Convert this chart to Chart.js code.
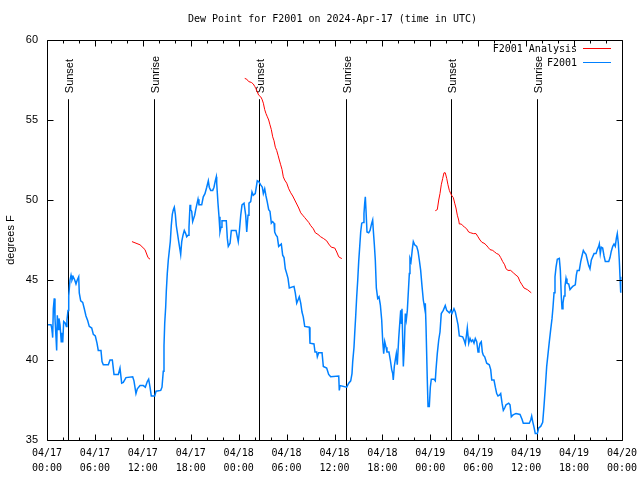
<!DOCTYPE html>
<html>
<head>
<meta charset="utf-8">
<script src="https://cdn.jsdelivr.net/npm/chart.js@4"></script>
<style>html,body{margin:0;background:#fff}</style>
</head>
<body>
<canvas id="chart" width="640" height="480"></canvas>
<script>
// hours since 04/17 00:00 UTC
const chartTitle = 'Dew Point for F2001 on 2024-Apr-17 (time in UTC)';
const dayLabels = ['04/17', '04/18', '04/19', '04/20'];
const yTicks = [35, 40, 45, 50, 55, 60];
const sunEvents = [[2.63, 'Sunset'], [13.44, 'Sunrise'], [26.58, 'Sunset'], [37.5, 'Sunrise'], [50.59, 'Sunset'], [61.4, 'Sunrise']];
const sunLineTop = 56.3;

const obsReadings = [
  [0.13,42.2],[0.50,42.2],[0.59,42.0],[0.66,41.7],[0.71,41.4],[0.79,43.2],[0.91,43.85],[1.00,42.6],[1.13,41.4],[1.21,40.6],
  [1.29,42.8],[1.41,41.9],[1.50,42.6],[1.63,42.2],[1.79,41.1],[1.88,41.7],[1.97,41.1],[2.09,42.4],[2.29,42.3],[2.42,42.1],
  [2.50,42.5],[2.63,43.1],[2.72,44.0],[2.88,45.0],[3.01,45.3],[3.13,45.0],[3.29,45.2],[3.47,45.0],[3.63,44.75],[3.79,45.0],
  [3.97,45.2],[4.04,44.2],[4.22,43.7],[4.47,43.6],[4.67,43.2],[4.88,42.75],[5.10,42.45],[5.29,42.1],[5.60,42.0],[5.80,41.6],
  [6.05,41.5],[6.26,41.05],[6.42,40.6],[6.76,40.6],[6.89,39.9],[7.05,39.7],[7.68,39.7],[7.89,40.0],[8.18,40.0],[8.39,39.1],
  [8.93,39.1],[9.14,39.5],[9.35,38.55],[9.55,38.6],[9.89,38.9],[10.73,38.95],[10.89,38.7],[11.14,37.9],[11.31,38.2],[11.65,38.4],
  [12.06,38.4],[12.31,38.3],[12.56,38.65],[12.73,38.8],[12.90,38.3],[13.06,37.75],[13.49,37.75],[13.65,38.05],[14.24,38.1],[14.40,38.3],
  [14.56,39.3],[14.65,40.9],[14.74,42.3],[14.86,43.3],[14.94,44.3],[15.06,45.4],[15.19,46.25],[15.31,46.8],[15.44,47.4],[15.56,48.4],
  [15.69,49.1],[15.82,49.4],[15.94,49.55],[16.07,49.1],[16.19,48.4],[16.37,47.8],[16.49,47.4],[16.65,46.9],[16.74,46.6],[16.87,47.4],
  [17.03,47.8],[17.19,48.1],[17.37,47.9],[17.49,47.7],[17.66,47.8],[17.78,48.3],[17.91,49.7],[17.99,49.4],[18.12,49.3],[18.24,48.65],
  [18.37,48.85],[18.49,49.05],[18.62,49.4],[18.75,49.7],[18.91,50.05],[19.03,49.7],[19.37,49.7],[19.57,50.2],[19.78,50.4],[20.00,50.8],
  [20.20,51.2],[20.32,50.8],[20.50,50.6],[20.75,50.6],[20.91,50.8],[21.07,51.2],[21.20,51.45],[21.25,51.05],[21.41,49.8],[21.54,48.95],
  [21.66,48.0],[21.79,48.3],[21.91,48.7],[22.45,48.7],[22.58,47.6],[22.70,47.1],[22.92,47.3],[23.08,48.1],[23.67,48.1],[23.83,47.7],
  [23.95,47.4],[24.08,48.0],[24.26,49.05],[24.42,49.7],[24.67,49.8],[24.88,49.05],[25.01,48.0],[25.17,49.05],[25.29,49.8],[25.51,49.9],
  [25.67,50.5],[25.83,50.3],[26.08,50.4],[26.33,51.2],[26.51,51.15],[26.76,50.95],[26.96,50.8],[27.09,50.4],[27.26,50.7],[27.42,50.25],
  [27.59,49.85],[27.76,49.4],[27.92,49.3],[28.09,48.55],[28.26,48.65],[28.43,48.55],[28.51,48.0],[28.68,47.8],[28.84,47.7],[29.01,47.1],
  [29.34,47.25],[29.51,46.55],[29.68,46.4],[29.84,45.7],[30.02,45.4],[30.18,45.1],[30.34,44.5],[30.93,44.6],[31.09,44.2],[31.27,43.55],
  [31.43,43.75],[31.59,43.95],[31.77,43.55],[31.93,43.0],[32.09,42.7],[32.27,42.1],[32.85,42.05],[32.93,41.05],[33.43,41.0],[33.56,40.5],
  [33.77,40.5],[33.85,40.2],[34.02,40.45],[34.44,40.45],[34.60,39.6],[35.02,39.5],[35.27,39.1],[35.52,38.95],[36.53,39.0],[36.60,38.1],
  [36.69,38.4],[37.53,38.3],[37.78,38.55],[38.03,38.7],[38.19,39.15],[38.28,39.9],[38.44,40.8],[38.53,41.65],[38.65,42.7],[38.78,43.95],
  [38.91,45.0],[39.03,46.15],[39.16,47.1],[39.28,48.0],[39.41,48.55],[39.61,48.6],[39.69,49.15],[39.78,49.8],[39.86,50.2],[39.95,49.3],
  [40.07,48.0],[40.28,47.95],[40.45,48.1],[40.66,48.55],[40.78,48.75],[40.86,48.1],[40.99,47.2],[41.11,46.25],[41.24,44.5],[41.41,43.85],
  [41.57,43.95],[41.74,43.45],[41.91,42.5],[42.04,41.15],[42.16,40.4],[42.29,41.15],[42.45,40.8],[42.57,40.5],[42.82,40.5],[42.99,40.0],
  [43.16,39.4],[43.29,39.15],[43.36,38.75],[43.49,39.6],[43.61,40.0],[43.74,40.4],[43.86,39.7],[44.04,41.35],[44.20,42.5],[44.29,43.1],
  [44.37,42.3],[44.45,43.2],[44.54,41.25],[44.62,39.6],[44.74,40.8],[44.87,42.9],[44.99,42.5],[45.12,43.1],[45.24,44.2],[45.37,45.4],
  [45.45,46.35],[45.58,46.15],[45.74,46.9],[45.87,47.4],[46.04,47.2],[46.29,47.1],[46.46,46.8],[46.62,46.25],[46.79,45.6],[46.96,44.6],
  [47.12,43.75],[47.30,43.2],[47.37,43.55],[47.46,42.1],[47.62,38.75],[47.71,37.1],[47.87,37.1],[48.00,38.3],[48.12,38.8],[48.46,38.8],
  [48.62,38.7],[48.71,39.4],[48.87,40.4],[49.05,41.25],[49.21,41.75],[49.37,42.9],[49.62,43.1],[49.87,43.4],[50.05,43.1],[50.38,42.95],
  [50.55,43.1],[50.71,42.9],[50.96,43.2],[51.13,43.0],[51.30,42.6],[51.47,42.2],[51.63,41.5],[52.05,41.45],[52.22,41.25],[52.38,41.0],
  [52.55,41.65],[52.63,42.0],[52.81,41.05],[52.97,41.35],[53.13,41.15],[53.31,41.25],[53.47,41.05],[53.63,41.35],[53.81,41.15],[53.97,40.5],
  [54.09,40.7],[54.22,41.05],[54.38,41.15],[54.51,40.5],[54.63,40.3],[54.81,40.2],[55.06,39.8],[55.38,39.7],[55.56,39.4],[55.69,38.75],
  [55.97,38.75],[56.14,38.3],[56.31,37.9],[56.47,37.75],[56.64,37.8],[56.81,37.9],[56.98,37.3],[57.14,36.85],[57.31,37.0],[57.48,37.2],
  [57.81,37.3],[57.98,37.2],[58.14,36.45],[58.32,36.55],[58.48,36.6],[58.73,36.65],[59.23,36.6],[59.48,36.3],[59.64,36.05],[60.39,36.05],
  [60.57,36.25],[60.69,36.5],[60.82,36.15],[60.98,35.8],[61.14,35.4],[61.40,35.4],[61.57,35.75],[61.82,35.85],[62.07,36.1],[62.23,37.1],
  [62.40,38.3],[62.57,39.6],[62.74,40.4],[62.90,41.15],[63.07,41.9],[63.24,42.6],[63.36,43.3],[63.49,44.2],[63.61,45.2],[63.74,45.8],
  [63.90,46.3],[64.15,46.35],[64.28,45.6],[64.40,43.95],[64.49,43.2],[64.61,43.55],[64.74,44.0],[64.86,44.6],[64.99,45.1],[65.11,44.8],
  [65.33,44.75],[65.49,44.4],[65.65,44.5],[65.83,44.6],[66.15,44.7],[66.28,45.3],[66.40,45.6],[66.65,45.6],[66.83,46.15],[66.99,46.5],
  [67.16,46.85],[67.33,46.7],[67.49,46.6],[67.66,46.25],[67.83,45.9],[67.99,45.7],[68.16,46.25],[68.33,46.45],[68.50,46.65],[68.75,46.65],
  [68.91,46.9],[69.08,47.1],[69.16,47.25],[69.28,46.65],[69.41,47.05],[69.58,47.0],[69.75,46.5],[69.91,46.15],[70.34,46.15],[70.50,46.4],
  [70.66,46.8],[70.84,47.1],[71.00,47.25],[71.16,47.1],[71.29,47.6],[71.41,47.9],[71.54,47.3],[71.66,46.25],[71.75,45.2],[71.84,44.2]
];

// null values separate the three analysis runs
const analysisReadings = [
  [10.64,47.4],[11.65,47.2],[12.27,46.9],[12.65,46.4],[12.90,46.3],
  [18.0,null],
  [24.76,57.6],[25.01,57.55],[25.26,57.4],[25.58,57.35],[25.83,57.25],[26.01,57.1],[26.17,56.95],[26.33,56.75],[26.51,56.55],[26.76,56.45],
  [26.92,56.3],[27.09,56.05],[27.26,55.65],[27.42,55.4],[27.59,55.2],[27.76,55.0],[27.92,54.7],[28.09,54.4],[28.26,53.95],[28.43,53.7],
  [28.59,53.3],[28.76,53.1],[28.93,52.8],[29.09,52.5],[29.26,52.2],[29.43,51.9],[29.59,51.45],[29.76,51.25],[30.02,51.05],[30.27,50.7],
  [30.52,50.45],[30.77,50.25],[31.02,50.0],[31.27,49.75],[31.52,49.5],[31.77,49.2],[32.02,49.05],[32.27,48.9],[32.52,48.75],[32.77,48.6],
  [33.02,48.4],[33.35,48.2],[33.60,47.95],[33.93,47.85],[34.27,47.7],[34.60,47.6],[35.02,47.45],[35.27,47.25],[35.60,47.05],[36.03,47.0],
  [36.28,46.75],[36.53,46.45],[36.85,46.35],[36.94,46.35],
  [42.0,null],
  [48.62,49.33],[48.87,49.4],[49.05,50.0],[49.21,50.4],[49.37,50.95],[49.55,51.35],[49.71,51.7],[49.87,51.7],[50.05,51.35],[50.21,50.95],
  [50.38,50.6],[50.55,50.4],[50.71,50.25],[50.88,50.15],[51.05,49.8],[51.21,49.5],[51.38,49.05],[51.55,48.75],[51.63,48.5],[51.88,48.5],
  [52.05,48.4],[52.30,48.3],[52.55,48.2],[52.80,48.0],[53.06,47.95],[53.38,47.9],[53.72,47.9],[53.97,47.7],[54.22,47.5],[54.47,47.35],
  [54.72,47.3],[54.97,47.2],[55.22,47.05],[55.47,46.9],[55.81,46.85],[56.06,46.75],[56.31,46.65],[56.56,46.6],[56.81,46.4],[57.06,46.15],
  [57.31,45.95],[57.48,45.7],[57.73,45.6],[58.06,45.6],[58.39,45.45],[58.73,45.3],[58.98,45.2],[59.23,44.9],[59.48,44.7],[59.73,44.5],
  [60.14,44.4],[60.64,44.2]
];

const toPoints = rows => rows.map(([h, v]) => ({x: h, y: v}));
const mono = '"DejaVu Sans Mono", monospace';
const sans = '"Liberation Sans", Arial, sans-serif';

const frame = {
  id: 'frame',
  beforeDatasetsDraw(chart) {
    const {ctx, scales: {x, y}} = chart;
    ctx.save();
    ctx.strokeStyle = '#000';
    ctx.fillStyle = '#000';
    ctx.lineWidth = 1;
    ctx.font = '11px ' + sans;
    const top = y.getPixelForValue(sunLineTop);
    sunEvents.forEach(([h, label]) => {
      const px = Math.round(x.getPixelForValue(h)) + 0.5;
      ctx.beginPath();
      ctx.moveTo(px, top);
      ctx.lineTo(px, y.bottom);
      ctx.stroke();
      ctx.save();
      ctx.translate(px + 1, top - 6);
      ctx.rotate(-Math.PI / 2);
      ctx.textAlign = 'left';
      ctx.textBaseline = 'middle';
      ctx.fillText(label, 0, 0);
      ctx.restore();
    });
    ctx.restore();
  },
  afterDraw(chart) {
    const {ctx, scales: {x, y}} = chart;
    const l = Math.round(x.left) + 0.5, r = Math.round(x.right) + 0.5;
    const t = Math.round(y.top) + 0.5, b = Math.round(y.bottom) + 0.5;
    ctx.save();
    ctx.strokeStyle = '#000';
    ctx.lineWidth = 1;
    ctx.beginPath();
    ctx.rect(l, t, r - l, b - t);
    x.ticks.forEach(tk => {
      const px = Math.round(x.getPixelForValue(tk.value)) + 0.5;
      const len = tk.value % 6 === 0 ? 6 : 3;
      ctx.moveTo(px, b); ctx.lineTo(px, b - len);
      ctx.moveTo(px, t); ctx.lineTo(px, t + len);
    });
    yTicks.forEach(v => {
      const py = Math.round(y.getPixelForValue(v)) + 0.5;
      ctx.moveTo(l, py); ctx.lineTo(l + 6, py);
      ctx.moveTo(r, py); ctx.lineTo(r - 6, py);
    });
    ctx.stroke();

    // title
    ctx.fillStyle = '#000';
    ctx.font = '10px ' + mono;
    ctx.textAlign = 'center';
    ctx.textBaseline = 'middle';
    ctx.fillText(chartTitle, (x.left + x.right) / 2 - 2, 19);

    // y axis title
    ctx.save();
    ctx.font = '11px ' + sans;
    ctx.translate(11, (y.top + y.bottom) / 2);
    ctx.rotate(-Math.PI / 2);
    ctx.fillText('degrees F', 0, 0);
    ctx.restore();

    // key
    chart.data.datasets.forEach((ds, i) => {
      const ky = Math.round(y.top + 8 + i * 14) + 0.5;
      ctx.textAlign = 'right';
      ctx.fillText(ds.label, x.right - 45, ky + 1);
      ctx.strokeStyle = ds.borderColor;
      ctx.beginPath();
      ctx.moveTo(x.right - 39, ky);
      ctx.lineTo(x.right - 11, ky);
      ctx.stroke();
    });
    ctx.restore();
  }
};

new Chart(document.getElementById('chart').getContext('2d'), {
  type: 'line',
  data: {
    datasets: [
      {
        label: 'F2001 Analysis',
        data: toPoints(analysisReadings),
        borderColor: '#ff0000',
        borderWidth: 1,
        pointRadius: 0,
        spanGaps: false,
        tension: 0
      },
      {
        label: 'F2001',
        data: toPoints(obsReadings),
        borderColor: '#0080ff',
        borderWidth: 1.5,
        pointRadius: 0,
        tension: 0
      }
    ]
  },
  options: {
    responsive: false,
    animation: false,
    devicePixelRatio: 1,
    layout: {padding: {top: 40, right: 18, left: 0, bottom: 0}},
    plugins: {legend: {display: false}, title: {display: false}, tooltip: {enabled: false}},
    scales: {
      x: {
        type: 'linear',
        min: 0,
        max: 72,
        afterFit: s => { s.height = 40; s.paddingLeft = 0; s.paddingRight = 0; },
        grid: {display: false, drawTicks: false},
        border: {display: false},
        ticks: {
          stepSize: 2,
          autoSkip: false,
          maxRotation: 0,
          padding: 6,
          color: '#000',
          font: {family: mono, size: 10, lineHeight: 1.5},
          callback: v => {
            if (v % 6 !== 0) return '';
            const hh = String(v % 24).padStart(2, '0');
            return [dayLabels[Math.floor(v / 24)], hh + ':00'];
          }
        }
      },
      y: {
        min: 35,
        max: 60,
        afterFit: s => { s.width = 47; s.paddingTop = 0; s.paddingBottom = 0; },
        grid: {display: false, drawTicks: false},
        border: {display: false},
        ticks: {
          stepSize: 5,
          padding: 9,
          color: '#000',
          font: {family: sans, size: 11}
        }
      }
    }
  },
  plugins: [frame]
});
</script>
</body>
</html>
